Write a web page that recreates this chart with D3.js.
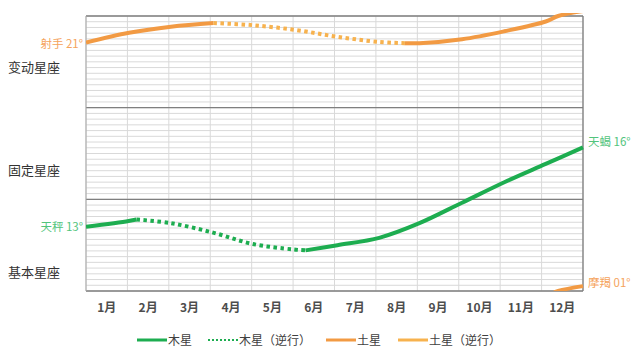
<!DOCTYPE html>
<html><head><meta charset="utf-8">
<script src="https://cdn.jsdelivr.net/npm/d3@7"></script>
<style>
html,body{margin:0;padding:0;background:#fff;}
text{font-family:"Noto Sans CJK SC","Noto Sans",sans-serif;}
</style></head>
<body><svg id="c" width="640" height="361"></svg>
<script>
// ---- data ----
const months = ["1月","2月","3月","4月","5月","6月","7月","8月","9月","10月","11月","12月"];
const bandNames = ["基本星座","固定星座","变动星座"];
// time in months since Jan 1, value in degrees (0-30 基本, 30-60 固定, 60-90 变动)
const jupiterT = [0, 1.03, 1.22, 2.05, 3.07, 4.02, 5.0, 5.3, 6.07, 7.08, 8.05, 9.08, 10.1, 11.1, 12];
const jupiterV = [21.0, 22.9, 23.4, 22.2, 19.1, 15.4, 13.6, 13.3, 15.0, 17.4, 22.2, 28.9, 35.6, 41.6, 47.0];
const jupiterStations = [1.22, 5.3];
const saturnT = [0, 1.04, 2.05, 3.08, 4.02, 5.08, 6.07, 7.08, 7.7, 8.05, 9.08, 10.1, 11.1, 11.4, 12];
const saturnV = [81.3, 84.5, 86.5, 87.7, 87.0, 85.4, 83.2, 81.5, 81.1, 81.1, 82.4, 85.0, 88.2, 90.0, 91.6];
const saturnStations = [3.08, 7.7];
const legendLabels = ["木星","木星（逆行）","土星","土星（逆行）"];
const pointLabels = ["射手 21°","天秤 13°","天蝎 16°","摩羯 01°"];

// ---- layout ----
const L=86, R=583, T=16, B=291;
const svg = d3.select("#c");
const x = d3.scaleLinear().domain([0,12]).range([L,R]);
const y = d3.scaleLinear().domain([0,90]).range([B,T]);
const cJ="#1DAD50", cS="#F29A43", cSR="#F7B24E";

// minor horizontal grid
const minor = d3.range(0, 90.001, 30/16);
svg.append("g").selectAll("line").data(minor).join("line")
  .attr("x1",L).attr("x2",R).attr("y1",d=>y(d)).attr("y2",d=>y(d))
  .attr("stroke","#D9D9D9").attr("stroke-width",1);
// vertical grid
svg.append("g").selectAll("line").data(d3.range(0,13)).join("line")
  .attr("x1",d=>x(d)).attr("x2",d=>x(d)).attr("y1",T).attr("y2",B)
  .attr("stroke","#D9D9D9").attr("stroke-width",1);
// major band lines
svg.append("g").selectAll("line").data([0,30,60,90]).join("line")
  .attr("x1",L).attr("x2",R).attr("y1",d=>y(d)).attr("y2",d=>y(d))
  .attr("stroke","#7F7F7F").attr("stroke-width",1.3);
svg.append("line").attr("x1",L).attr("x2",L).attr("y1",T).attr("y2",B).attr("stroke","#A6A6A6").attr("stroke-width",1);
svg.append("line").attr("x1",R).attr("x2",R).attr("y1",T).attr("y2",B).attr("stroke","#7F7F7F").attr("stroke-width",1.3);

// month labels
svg.append("g").selectAll("text").data(months).join("text")
  .attr("x",(d,i)=>x(i+0.5)).attr("y",312).attr("text-anchor","middle")
  .attr("font-size",12).attr("font-weight","bold").attr("fill","#4D4D4D").text(d=>d);

// band labels
const bandY=[272,170,67];
svg.append("g").selectAll("text").data(bandNames).join("text")
  .attr("x",8).attr("y",(d,i)=>bandY[i]+5).attr("font-size",13).attr("fill","#333").text(d=>d);

// clip
svg.append("clipPath").attr("id","clip").append("rect").attr("x",L).attr("y",T-3).attr("width",R-L+3).attr("height",B-T+3);

function segs(Ts,Vs,st){
  const pts=Ts.map((t,i)=>({t,v:Vs[i]}));
  return [
    {retro:false,p:pts.filter(d=>d.t<=st[0])},
    {retro:true,p:pts.filter(d=>d.t>=st[0]&&d.t<=st[1])},
    {retro:false,p:pts.filter(d=>d.t>=st[1])}
  ];
}
const line = d3.line().x(d=>x(d.t)).y(d=>y(d.v)).curve(d3.curveCatmullRom.alpha(0.5));
const gL = svg.append("g").attr("clip-path","url(#clip)");
function draw(s,col,rcol,off){
  s.forEach(sg=>{
    gL.append("path").attr("d",line(sg.p.map(d=>({t:d.t,v:d.v-off}))))
      .attr("fill","none").attr("stroke",sg.retro?rcol:col).attr("stroke-width",4)
      .attr("stroke-dasharray",sg.retro?"3.5,3.5":null)
      .attr("stroke-linejoin","round");
  });
}
draw(segs(jupiterT,jupiterV,jupiterStations),cJ,cJ,0);
const ss=segs(saturnT,saturnV,saturnStations);
draw(ss,cS,cSR,0);
draw(ss,cS,cSR,90);

// point labels
const lab=[
  {t:pointLabels[0],x:L-3,y:y(saturnV[0])+5,a:"end",c:"#F5A35C"},
  {t:pointLabels[1],x:L-3,y:y(jupiterV[0])+4,a:"end",c:"#52C47C"},
  {t:pointLabels[2],x:R+5,y:y(jupiterV[jupiterV.length-1])-1,a:"start",c:"#52C47C"},
  {t:pointLabels[3],x:R+5,y:y(saturnV[saturnV.length-1]-90)+1,a:"start",c:"#F5A35C"}
];
svg.append("g").selectAll("text").data(lab).join("text")
  .attr("x",d=>d.x).attr("y",d=>d.y).attr("text-anchor",d=>d.a)
  .attr("font-size",11.5).attr("fill",d=>d.c).text(d=>d.t);

// legend
const lg=[{x:137,c:cJ,dash:null},{x:208,c:cJ,dash:"2,2"},{x:326,c:cS,dash:null},{x:398,c:cSR,dash:null}];
const lgG=svg.append("g");
lg.forEach((d,i)=>{
  lgG.append("line").attr("x1",d.x).attr("x2",d.x+30).attr("y1",340).attr("y2",340)
    .attr("stroke",d.c).attr("stroke-width",d.dash?2:3).attr("stroke-dasharray",d.dash);
  lgG.append("text").attr("x",d.x+31).attr("y",344.5).attr("font-size",12).attr("fill","#404040").text(legendLabels[i]);
});
</script></body></html>
